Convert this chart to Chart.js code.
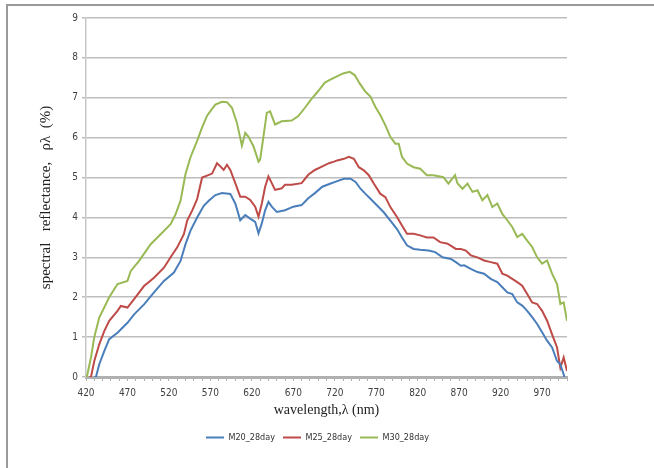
<!DOCTYPE html>
<html>
<head>
<meta charset="utf-8">
<script src="https://cdn.jsdelivr.net/npm/chart.js@4.4.1/dist/chart.umd.min.js"></script>
<style>
  html, body { margin: 0; padding: 0; background: #fff; }
  #wrap { position: relative; width: 654px; height: 468px; }
  #frame { position: absolute; left: 6px; top: 4px; right: 0; bottom: 0;
           border-left: 2px solid #9a9a9a; border-top: 2px solid #9a9a9a; pointer-events: none; }
</style>
</head>
<body>
<div id="wrap">
  <canvas id="chart" width="654" height="468"></canvas>
  <div id="frame"></div>
</div>
<script>
// wavelength (nm), reflectance (%)
const m20 = [[430,0],[432,0],[436,0.32],[442,0.65],[448,0.95],[458,1.11],[470,1.36],[478,1.57],[490,1.82],
  [502,2.12],[514,2.41],[526,2.62],[534,2.91],[540,3.33],[546,3.67],[554,4.0],[562,4.29],[568,4.42],[576,4.56],
  [584,4.61],[594,4.59],[600,4.35],[606,3.93],[612,4.06],[618,3.97],[624,3.89],[628,3.60],[632,3.85],[636,4.18],
  [640,4.39],[644,4.27],[650,4.14],[660,4.18],[670,4.27],[680,4.31],[688,4.48],[696,4.61],[705,4.77],[715,4.85],
  [723,4.91],[731,4.97],[739,4.97],[745,4.89],[751,4.72],[757,4.59],[763,4.47],[771,4.30],[779,4.13],[787,3.92],
  [795,3.71],[801,3.50],[807,3.30],[815,3.21],[823,3.19],[833,3.17],[841,3.13],[850,3.00],[860,2.96],[866,2.88],
  [872,2.79],[876,2.80],[884,2.71],[892,2.63],[900,2.59],[908,2.46],[916,2.38],[922,2.25],[928,2.12],[934,2.08],
  [940,1.87],[946,1.79],[952,1.66],[958,1.50],[964,1.33],[970,1.12],[976,0.91],[982,0.74],[988,0.40],[992,0.32],
  [997,0]];

const m25 = [[424,0],[426,0],[430,0.40],[436,0.82],[442,1.15],[448,1.41],[458,1.66],[462,1.78],[470,1.74],[478,1.95],
  [490,2.28],[502,2.49],[514,2.74],[522,3.0],[530,3.25],[538,3.58],[542,3.92],[548,4.17],[554,4.46],[560,5.0],
  [566,5.05],[572,5.10],[578,5.36],[582,5.28],[586,5.19],[590,5.32],[594,5.19],[600,4.86],[606,4.52],[612,4.52],
  [618,4.44],[624,4.27],[628,4.02],[632,4.35],[636,4.77],[640,5.03],[644,4.86],[648,4.69],[656,4.73],[660,4.82],
  [668,4.82],[680,4.86],[688,5.07],[696,5.19],[705,5.28],[713,5.36],[719,5.40],[723,5.43],[731,5.47],[737,5.52],
  [743,5.47],[749,5.26],[755,5.18],[761,5.06],[767,4.85],[775,4.59],[781,4.51],[787,4.26],[795,4.01],[801,3.80],
  [807,3.59],[815,3.59],[823,3.55],[831,3.50],[839,3.50],[847,3.38],[856,3.34],[866,3.21],[872,3.21],[878,3.17],
  [884,3.05],[892,3.0],[900,2.92],[908,2.88],[916,2.84],[922,2.59],[928,2.54],[934,2.46],[940,2.38],[946,2.29],
  [952,2.08],[958,1.87],[964,1.83],[970,1.66],[976,1.41],[982,1.07],[988,0.74],[992,0.23],[996,0.49],[1000,0.15]];

const m30 = [[421,0],[426,0.49],[430,1.0],[436,1.49],[448,2.0],[458,2.33],[470,2.41],[474,2.66],[484,2.91],[498,3.33],
  [510,3.58],[522,3.83],[528,4.08],[534,4.42],[540,5.09],[546,5.51],[554,5.92],[560,6.26],[566,6.55],[572,6.72],
  [576,6.83],[584,6.9],[590,6.89],[596,6.75],[602,6.37],[608,5.80],[612,6.12],[616,6.02],[622,5.78],[628,5.40],
  [630,5.45],[634,6.03],[638,6.62],[642,6.66],[648,6.33],[656,6.41],[668,6.43],[676,6.54],[684,6.75],[692,6.97],
  [700,7.17],[708,7.38],[714,7.45],[722,7.53],[730,7.61],[738,7.65],[744,7.57],[750,7.36],[757,7.15],[763,7.03],
  [769,6.77],[775,6.56],[781,6.31],[787,6.02],[793,5.85],[797,5.85],[801,5.52],[807,5.35],[815,5.26],[823,5.22],
  [831,5.06],[839,5.06],[851,5.01],[857,4.85],[865,5.06],[868,4.85],[874,4.72],[880,4.85],[886,4.64],[892,4.68],
  [898,4.43],[904,4.56],[910,4.26],[916,4.35],[922,4.09],[928,3.93],[934,3.76],[940,3.51],[946,3.59],[952,3.42],
  [958,3.26],[964,3.0],[970,2.84],[976,2.92],[982,2.59],[988,2.33],[992,1.83],[996,1.87],[1000,1.41]];

const seriesNames = ['M20_28day', 'M25_28day', 'M30_28day'];
const seriesColors = ['#4a7ebb', '#be4b48', '#98b954'];
const xLabelStep = 50;
const yTicks = [0, 1, 2, 3, 4, 5, 6, 7, 8, 9];

const toPoints = arr => arr.map(p => ({ x: p[0], y: p[1] }));
const allSeries = [m20, m25, m30];

const tickFont = { family: "'Liberation Sans Narrow', 'DejaVu Sans Condensed', sans-serif", size: 10 };
const legendFont = { family: "'Liberation Sans Narrow', 'DejaVu Sans Condensed', sans-serif", size: 9 };
const serif = "'Liberation Serif', 'DejaVu Serif', serif";

// nudge the legend to the right, like the original layout
const legendShift = {
    id: 'legendShift',
    afterLayout(chart) {
        const lg = chart.legend;
        if (lg) { lg.left += 30; lg.right += 30; }
    }
};

new Chart(document.getElementById('chart'), {
    type: 'line',
    data: {
        datasets: allSeries.map((s, i) => ({
            label: seriesNames[i],
            data: toPoints(s),
            borderColor: seriesColors[i],
            backgroundColor: seriesColors[i],
            borderWidth: 2,
            pointRadius: 0,
            tension: 0
        }))
    },
    plugins: [legendShift],
    options: {
        responsive: false,
        animation: false,
        layout: { padding: { left: 8, right: 87, top: 18, bottom: 16 } },
        plugins: {
            tooltip: { enabled: false },
            legend: {
                position: 'bottom',
                labels: {
                    usePointStyle: true,
                    pointStyle: 'line',
                    pointStyleWidth: 18,
                    boxHeight: 8,
                    padding: 8,
                    color: '#333',
                    font: legendFont
                }
            }
        },
        scales: {
            x: {
                type: 'linear',
                min: 420,
                max: 1000,
                afterFit: s => { s.height = 48; },
                afterBuildTicks: s => {
                    s.ticks = [];
                    for (let v = 420; v <= 1000; v += 10) s.ticks.push({ value: v });
                },
                ticks: {
                    autoSkip: false,
                    maxRotation: 0,
                    padding: 6,
                    color: '#404040',
                    font: tickFont,
                    callback: v => ((v - 420) % xLabelStep === 0 && v < 1000) ? String(v) : ''
                },
                grid: { drawOnChartArea: false, tickLength: 4, color: '#b0b0b0', lineWidth: 1 },
                border: { color: '#b0b0b0', width: 3 },
                title: {
                    display: true,
                    text: 'wavelength,λ (nm)',
                    color: '#222',
                    font: { family: serif, size: 14 },
                    padding: { bottom: 6 }
                }
            },
            y: {
                min: 0,
                max: 9,
                afterFit: s => { s.width = 78; },
                afterBuildTicks: s => { s.ticks = yTicks.map(v => ({ value: v })); },
                ticks: { padding: 4, color: '#404040', font: tickFont },
                grid: { color: '#bdbdbd', lineWidth: 1.5, tickLength: 4 },
                border: { color: '#c8c8c8', width: 1.5 },
                title: {
                    display: true,
                    text: 'spectral   reflectance,   ρλ  (%)',
                    color: '#222',
                    font: { family: serif, size: 15 },
                    padding: { top: 29 }
                }
            }
        }
    }
});
</script>
</body>
</html>
